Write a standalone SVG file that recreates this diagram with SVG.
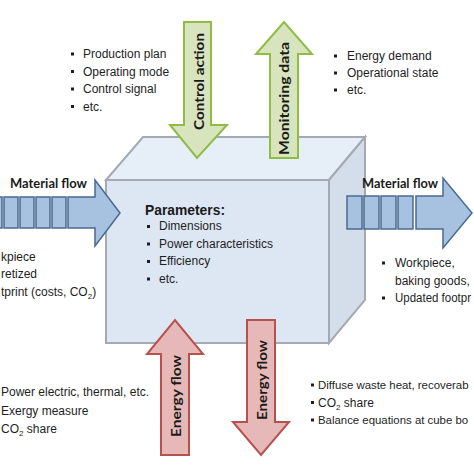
<svg xmlns="http://www.w3.org/2000/svg" width="474" height="474" viewBox="0 0 474 474">
<defs>
<style>
.txt{font-family:"Liberation Sans",Arial,sans-serif;font-size:12px;fill:#1e1e1e}
.sm{font-size:11.4px}
.lbl{font-family:Lato,"Liberation Sans",sans-serif;font-size:13.5px;font-weight:bold;fill:#1a1a1a}
.par{font-family:"Liberation Sans",Arial,sans-serif;font-size:15px;font-weight:bold;fill:#1a1a1a}
.green{fill:#d7e4bd;stroke:#8fbc45;stroke-width:2}
.red{fill:#e6b9b8;stroke:#b5524f;stroke-width:2}
.blue{fill:#a7c2e1;stroke:#4a6a8e;stroke-width:1.5}
.bul{fill:#1e1e1e}
.sub{font-size:8px}
</style>
</defs>
<rect width="474" height="474" fill="#ffffff"/>

<g id="cube">
<polygon points="106,180 143,137 365,137 329,180" fill="#e6eef8" stroke="#a3aab3" stroke-width="2"/>
<polygon points="329,180 365,137 365,300 329,343" fill="#d4deeb" stroke="#a3aab3" stroke-width="2"/>
<rect x="106" y="180" width="223" height="163" fill="#dde7f3" stroke="#a3aab3" stroke-width="2"/>
</g>

<g id="connectors">
<g id="control-action">
<polygon class="green" points="184,22 211,22 211,125 227,125 197,158 170,125 184,125"/>
<text class="lbl" transform="translate(199,81.5) rotate(-90)" x="0" y="4.5" text-anchor="middle" textLength="97" lengthAdjust="spacingAndGlyphs">Control action</text>
</g>
<g id="monitoring-data">
<polygon class="green" points="270,158 298,158 298,54 312,54 284,22 256,54 270,54"/>
<text class="lbl" transform="translate(284,98.5) rotate(-90)" x="0" y="4.5" text-anchor="middle" textLength="113" lengthAdjust="spacingAndGlyphs">Monitoring data</text>
</g>
<g id="energy-in">
<polygon class="red" points="161,455 189,455 189,354 203,354 175,320 147,354 161,354"/>
<text class="lbl" transform="translate(176,396) rotate(-90)" x="0" y="4.5" text-anchor="middle" textLength="82" lengthAdjust="spacingAndGlyphs">Energy flow</text>
</g>
<g id="energy-out">
<polygon class="red" points="247,320 275,320 275,422 289,422 261,455 233,422 247,422"/>
<text class="lbl" transform="translate(262,380) rotate(-90)" x="0" y="4.5" text-anchor="middle" textLength="80" lengthAdjust="spacingAndGlyphs">Energy flow</text>
</g>
<g id="material-in">
<rect class="blue" x="-12" y="197" width="14" height="31"/>
<rect class="blue" x="4" y="197" width="14" height="31"/>
<rect class="blue" x="20" y="197" width="14" height="31"/>
<rect class="blue" x="36" y="197" width="14" height="31"/>
<rect class="blue" x="52" y="197" width="14" height="31"/>
<polygon class="blue" points="68,197 95,197 95,180 120,213 95,246 95,228 68,228"/>
<text class="lbl" x="10" y="188" textLength="77" lengthAdjust="spacingAndGlyphs">Material flow</text>
</g>
<g id="material-out">
<rect class="blue" x="347" y="196" width="15" height="33"/>
<rect class="blue" x="364" y="196" width="15" height="33"/>
<rect class="blue" x="381" y="196" width="15" height="33"/>
<rect class="blue" x="398" y="196" width="15" height="33"/>
<polygon class="blue" points="416,196 443,196 443,178 472,213 443,248 443,229 416,229"/>
<text class="lbl" x="362" y="188" textLength="76" lengthAdjust="spacingAndGlyphs">Material flow</text>
</g>
</g>

<g id="parameters">
<text class="par" x="145" y="215" textLength="80" lengthAdjust="spacingAndGlyphs">Parameters:</text>
<rect class="bul" x="147" y="225" width="3" height="3"/>
<rect class="bul" x="147" y="242.5" width="3" height="3"/>
<rect class="bul" x="147" y="260" width="3" height="3"/>
<rect class="bul" x="147" y="277.5" width="3" height="3"/>
<text class="txt" x="159" y="230">Dimensions</text>
<text class="txt" x="159" y="247.5">Power characteristics</text>
<text class="txt" x="159" y="265">Efficiency</text>
<text class="txt" x="159" y="282.5">etc.</text>
</g>

<g id="control-list">
<rect class="bul" x="71" y="52.5" width="3" height="3"/>
<rect class="bul" x="71" y="70" width="3" height="3"/>
<rect class="bul" x="71" y="87.5" width="3" height="3"/>
<rect class="bul" x="71" y="105" width="3" height="3"/>
<text class="txt" x="83" y="58">Production plan</text>
<text class="txt" x="83" y="75.5">Operating mode</text>
<text class="txt" x="83" y="93">Control signal</text>
<text class="txt" x="83" y="110.5">etc.</text>
</g>

<g id="monitoring-list">
<rect class="bul" x="334" y="54.5" width="3" height="3"/>
<rect class="bul" x="334" y="71.5" width="3" height="3"/>
<rect class="bul" x="334" y="88.5" width="3" height="3"/>
<text class="txt" x="347" y="60">Energy demand</text>
<text class="txt" x="347" y="77">Operational state</text>
<text class="txt" x="347" y="94">etc.</text>
</g>

<g id="material-in-list">
<text class="txt" x="1" y="261">kpiece</text>
<text class="txt" x="1" y="277.5">retized</text>
<text class="txt" x="1" y="296">tprint (costs, CO<tspan class="sub" dy="3">2</tspan><tspan dy="-3">)</tspan></text>
</g>

<g id="material-out-list">
<rect class="bul" x="382" y="261.5" width="3" height="3"/>
<rect class="bul" x="382" y="296.5" width="3" height="3"/>
<text class="txt" x="395" y="267">Workpiece,</text>
<text class="txt" x="395" y="284.5">baking goods,</text>
<text class="txt" x="395" y="302" textLength="76" lengthAdjust="spacingAndGlyphs">Updated footpr</text>
</g>

<g id="energy-in-list">
<text class="txt" x="1" y="396">Power electric, thermal, etc.</text>
<text class="txt" x="1" y="414.5">Exergy measure</text>
<text class="txt" x="1" y="433">CO<tspan class="sub" dy="3">2</tspan><tspan dy="-3"> share</tspan></text>
</g>

<g id="energy-out-list">
<rect class="bul" x="311" y="383.5" width="3" height="3"/>
<rect class="bul" x="311" y="401" width="3" height="3"/>
<rect class="bul" x="311" y="418.5" width="3" height="3"/>
<text class="txt sm" x="318" y="389">Diffuse waste heat, recoverab</text>
<text class="txt" x="318" y="406.5">CO<tspan class="sub" dy="3">2</tspan><tspan dy="-3"> share</tspan></text>
<text class="txt sm" x="318" y="424">Balance equations at cube bo</text>
</g>
</svg>
